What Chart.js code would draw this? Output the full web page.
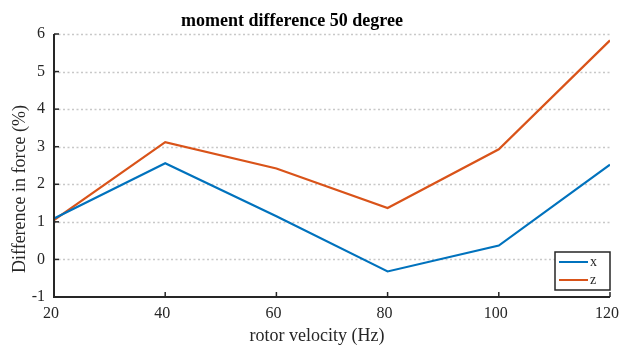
<!DOCTYPE html>
<html>
<head>
<meta charset="utf-8">
<script src="https://cdn.jsdelivr.net/npm/chart.js@4/dist/chart.umd.min.js"></script>
<style>
  html, body { margin: 0; padding: 0; background: #fff; }
  #wrap { width: 619px; height: 347px; }
</style>
</head>
<body>
<div id="wrap"><canvas id="forceChart" width="619" height="347"></canvas></div>
<script>
const velocities = [20, 40, 60, 80, 100, 120];
const diffX = [1.09, 2.56, 1.15, -0.32, 0.37, 2.52];
const diffZ = [1.05, 3.12, 2.42, 1.37, 2.93, 5.83];
const yTicks = [-1, 0, 1, 2, 3, 4, 5, 6];
const xTicks = [20, 40, 60, 80, 100, 120];

const titleText = 'moment difference 50 degree';
const xTitle = 'rotor velocity (Hz)';
const yTitle = 'Difference in force (%)';

const serif = "'Liberation Serif', 'Times New Roman', serif";
const axisColor = '#262626';

// grid, inward ticks, axis lines, titles and the boxed legend, in the old plotting style
const matlabAxes = {
  id: 'matlabAxes',
  beforeDatasetsDraw(chart) {
    const { ctx, chartArea: a, scales } = chart;
    ctx.save();
    ctx.strokeStyle = '#c8c8c8';
    ctx.lineWidth = 1.5;
    ctx.setLineDash([2, 2.5]);
    yTicks.forEach(v => {
      if (v === yTicks[0]) return;
      const y = Math.round(scales.y.getPixelForValue(v)) + 0.5;
      ctx.beginPath();
      ctx.moveTo(a.left, y);
      ctx.lineTo(a.right, y);
      ctx.stroke();
    });
    ctx.restore();
  },
  afterDatasetsDraw(chart) {
    const { ctx, chartArea: a, scales } = chart;
    ctx.save();
    ctx.strokeStyle = axisColor;
    ctx.lineWidth = 2;
    ctx.beginPath();
    ctx.moveTo(a.left, a.top);
    ctx.lineTo(a.left, a.bottom);
    ctx.lineTo(a.right, a.bottom);
    ctx.stroke();
    ctx.lineWidth = 1.5;
    yTicks.forEach(v => {
      const y = scales.y.getPixelForValue(v);
      ctx.beginPath();
      ctx.moveTo(a.left, y);
      ctx.lineTo(a.left + 5, y);
      ctx.stroke();
    });
    xTicks.forEach(v => {
      const x = scales.x.getPixelForValue(v);
      ctx.beginPath();
      ctx.moveTo(x, a.bottom);
      ctx.lineTo(x, a.bottom - 5);
      ctx.stroke();
    });

    // titles
    ctx.textAlign = 'center';
    ctx.textBaseline = 'middle';
    ctx.fillStyle = '#000';
    ctx.font = 'bold 18px ' + serif;
    ctx.fillText(titleText, 292, 21);
    ctx.fillStyle = axisColor;
    ctx.font = '18px ' + serif;
    ctx.fillText(xTitle, 317, 336);
    ctx.save();
    ctx.translate(20, 189);
    ctx.rotate(-Math.PI / 2);
    ctx.fillText(yTitle, 0, 0);
    ctx.restore();

    // legend box, lower right
    const box = { x: a.right - 55, y: a.bottom - 45, w: 55, h: 38 };
    ctx.fillStyle = '#fff';
    ctx.fillRect(box.x, box.y, box.w, box.h);
    ctx.strokeStyle = axisColor;
    ctx.lineWidth = 1.5;
    ctx.strokeRect(box.x, box.y, box.w, box.h);
    ctx.font = '14px ' + serif;
    ctx.textAlign = 'left';
    chart.data.datasets.forEach((ds, i) => {
      const y = box.y + 10 + i * 18;
      ctx.strokeStyle = ds.borderColor;
      ctx.lineWidth = 2;
      ctx.beginPath();
      ctx.moveTo(box.x + 4, y);
      ctx.lineTo(box.x + 33, y);
      ctx.stroke();
      ctx.fillStyle = axisColor;
      ctx.fillText(ds.label, box.x + 35, y);
    });
    ctx.restore();
  }
};

new Chart(document.getElementById('forceChart'), {
  type: 'line',
  data: {
    datasets: [
      {
        label: 'x',
        data: velocities.map((v, i) => ({ x: v, y: diffX[i] })),
        borderColor: '#0072BD',
        borderWidth: 2.2,
        pointRadius: 0,
        tension: 0
      },
      {
        label: 'z',
        data: velocities.map((v, i) => ({ x: v, y: diffZ[i] })),
        borderColor: '#D95319',
        borderWidth: 2.2,
        pointRadius: 0,
        tension: 0
      }
    ]
  },
  options: {
    responsive: false,
    animation: false,
    layout: { padding: { left: 0, right: 9, top: 34, bottom: 0 } },
    plugins: {
      legend: { display: false },
      tooltip: { enabled: false },
      title: { display: false }
    },
    scales: {
      x: {
        type: 'linear',
        min: 20,
        max: 120,
        afterBuildTicks(scale) { scale.ticks = xTicks.map(v => ({ value: v })); },
        afterFit(scale) { scale.height = 50; scale.paddingLeft = 0; scale.paddingRight = 0; },
        grid: { display: false, drawTicks: false },
        border: { display: false },
        ticks: { color: axisColor, font: { family: serif, size: 16 }, padding: 7, labelOffset: -3, maxRotation: 0 }
      },
      y: {
        min: -1,
        max: 6,
        afterBuildTicks(scale) { scale.ticks = yTicks.map(v => ({ value: v })); },
        afterFit(scale) { scale.width = 54; },
        grid: { display: false, drawTicks: false },
        border: { display: false },
        ticks: { color: axisColor, font: { family: serif, size: 16 }, padding: 9 }
      }
    }
  },
  plugins: [matlabAxes]
});
</script>
</body>
</html>
